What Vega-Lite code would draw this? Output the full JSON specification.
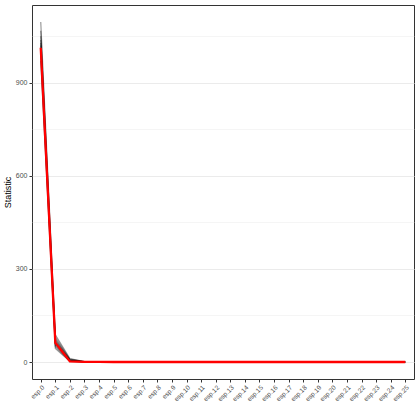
{
"$schema": "https://vega.github.io/schema/vega-lite/v6.json",
"width": 382, "height": 374,
"autosize": {"type": "none"},
"padding": {"left": 32, "top": 5, "right": 6, "bottom": 41},
"background": "white",
"config": {"font": "Liberation Sans", "view": {"stroke": "#333333", "strokeWidth": 1}},
"datasets": {"d": [
{"x":"esp.0","g":"p1","v":1096},{"x":"esp.0","g":"p2","v":1068},{"x":"esp.0","g":"p3","v":1050},{"x":"esp.0","g":"p4","v":1038},{"x":"esp.0","g":"p5","v":1028},{"x":"esp.0","g":"p6","v":1020},{"x":"esp.0","g":"p7","v":1012},{"x":"esp.0","g":"p8","v":1003},{"x":"esp.0","g":"p9","v":990},{"x":"esp.0","g":"p10","v":970},{"x":"esp.0","g":"obs","v":1013},
{"x":"esp.1","g":"p1","v":88},{"x":"esp.1","g":"p2","v":80},{"x":"esp.1","g":"p3","v":74},{"x":"esp.1","g":"p4","v":70},{"x":"esp.1","g":"p5","v":66},{"x":"esp.1","g":"p6","v":62},{"x":"esp.1","g":"p7","v":58},{"x":"esp.1","g":"p8","v":54},{"x":"esp.1","g":"p9","v":49},{"x":"esp.1","g":"p10","v":44},{"x":"esp.1","g":"obs","v":62},
{"x":"esp.2","g":"p1","v":11},{"x":"esp.2","g":"p2","v":9},{"x":"esp.2","g":"p3","v":8},{"x":"esp.2","g":"p4","v":7},{"x":"esp.2","g":"p5","v":6},{"x":"esp.2","g":"p6","v":5},{"x":"esp.2","g":"p7","v":4},{"x":"esp.2","g":"p8","v":3.5},{"x":"esp.2","g":"p9","v":3},{"x":"esp.2","g":"p10","v":2},{"x":"esp.2","g":"obs","v":2},
{"x":"esp.3","g":"p1","v":1.6},{"x":"esp.3","g":"p2","v":1.3},{"x":"esp.3","g":"p3","v":1.1},{"x":"esp.3","g":"p4","v":0.9},{"x":"esp.3","g":"p5","v":0.8},{"x":"esp.3","g":"p6","v":0.6},{"x":"esp.3","g":"p7","v":0.5},{"x":"esp.3","g":"p8","v":0.4},{"x":"esp.3","g":"p9","v":0.3},{"x":"esp.3","g":"p10","v":0.2},{"x":"esp.3","g":"obs","v":0.4},
{"x":"esp.4","g":"p1","v":0.4},{"x":"esp.4","g":"p2","v":0.3},{"x":"esp.4","g":"p3","v":0.3},{"x":"esp.4","g":"p4","v":0.2},{"x":"esp.4","g":"p5","v":0.2},{"x":"esp.4","g":"p6","v":0.15},{"x":"esp.4","g":"p7","v":0.1},{"x":"esp.4","g":"p8","v":0.1},{"x":"esp.4","g":"p9","v":0.05},{"x":"esp.4","g":"p10","v":0.05},{"x":"esp.4","g":"obs","v":0.1},
{"x":"esp.5","g":"p1","v":0.1},{"x":"esp.5","g":"p2","v":0.1},{"x":"esp.5","g":"p3","v":0.05},{"x":"esp.5","g":"p4","v":0.05},{"x":"esp.5","g":"p5","v":0.05},{"x":"esp.5","g":"p6","v":0},{"x":"esp.5","g":"p7","v":0},{"x":"esp.5","g":"p8","v":0},{"x":"esp.5","g":"p9","v":0},{"x":"esp.5","g":"p10","v":0},{"x":"esp.5","g":"obs","v":0},
{"x":"esp.6","g":"p1","v":0},{"x":"esp.6","g":"p2","v":0},{"x":"esp.6","g":"p3","v":0},{"x":"esp.6","g":"p4","v":0},{"x":"esp.6","g":"p5","v":0},{"x":"esp.6","g":"p6","v":0},{"x":"esp.6","g":"p7","v":0},{"x":"esp.6","g":"p8","v":0},{"x":"esp.6","g":"p9","v":0},{"x":"esp.6","g":"p10","v":0},{"x":"esp.6","g":"obs","v":0},
{"x":"esp.7","g":"p1","v":0},{"x":"esp.7","g":"p2","v":0},{"x":"esp.7","g":"p3","v":0},{"x":"esp.7","g":"p4","v":0},{"x":"esp.7","g":"p5","v":0},{"x":"esp.7","g":"p6","v":0},{"x":"esp.7","g":"p7","v":0},{"x":"esp.7","g":"p8","v":0},{"x":"esp.7","g":"p9","v":0},{"x":"esp.7","g":"p10","v":0},{"x":"esp.7","g":"obs","v":0},
{"x":"esp.8","g":"p1","v":0},{"x":"esp.8","g":"p2","v":0},{"x":"esp.8","g":"p3","v":0},{"x":"esp.8","g":"p4","v":0},{"x":"esp.8","g":"p5","v":0},{"x":"esp.8","g":"p6","v":0},{"x":"esp.8","g":"p7","v":0},{"x":"esp.8","g":"p8","v":0},{"x":"esp.8","g":"p9","v":0},{"x":"esp.8","g":"p10","v":0},{"x":"esp.8","g":"obs","v":0},
{"x":"esp.9","g":"p1","v":0},{"x":"esp.9","g":"p2","v":0},{"x":"esp.9","g":"p3","v":0},{"x":"esp.9","g":"p4","v":0},{"x":"esp.9","g":"p5","v":0},{"x":"esp.9","g":"p6","v":0},{"x":"esp.9","g":"p7","v":0},{"x":"esp.9","g":"p8","v":0},{"x":"esp.9","g":"p9","v":0},{"x":"esp.9","g":"p10","v":0},{"x":"esp.9","g":"obs","v":0},
{"x":"esp.10","g":"p1","v":0},{"x":"esp.10","g":"p2","v":0},{"x":"esp.10","g":"p3","v":0},{"x":"esp.10","g":"p4","v":0},{"x":"esp.10","g":"p5","v":0},{"x":"esp.10","g":"p6","v":0},{"x":"esp.10","g":"p7","v":0},{"x":"esp.10","g":"p8","v":0},{"x":"esp.10","g":"p9","v":0},{"x":"esp.10","g":"p10","v":0},{"x":"esp.10","g":"obs","v":0},
{"x":"esp.11","g":"p1","v":0},{"x":"esp.11","g":"p2","v":0},{"x":"esp.11","g":"p3","v":0},{"x":"esp.11","g":"p4","v":0},{"x":"esp.11","g":"p5","v":0},{"x":"esp.11","g":"p6","v":0},{"x":"esp.11","g":"p7","v":0},{"x":"esp.11","g":"p8","v":0},{"x":"esp.11","g":"p9","v":0},{"x":"esp.11","g":"p10","v":0},{"x":"esp.11","g":"obs","v":0},
{"x":"esp.12","g":"p1","v":0},{"x":"esp.12","g":"p2","v":0},{"x":"esp.12","g":"p3","v":0},{"x":"esp.12","g":"p4","v":0},{"x":"esp.12","g":"p5","v":0},{"x":"esp.12","g":"p6","v":0},{"x":"esp.12","g":"p7","v":0},{"x":"esp.12","g":"p8","v":0},{"x":"esp.12","g":"p9","v":0},{"x":"esp.12","g":"p10","v":0},{"x":"esp.12","g":"obs","v":0},
{"x":"esp.13","g":"p1","v":0},{"x":"esp.13","g":"p2","v":0},{"x":"esp.13","g":"p3","v":0},{"x":"esp.13","g":"p4","v":0},{"x":"esp.13","g":"p5","v":0},{"x":"esp.13","g":"p6","v":0},{"x":"esp.13","g":"p7","v":0},{"x":"esp.13","g":"p8","v":0},{"x":"esp.13","g":"p9","v":0},{"x":"esp.13","g":"p10","v":0},{"x":"esp.13","g":"obs","v":0},
{"x":"esp.14","g":"p1","v":0},{"x":"esp.14","g":"p2","v":0},{"x":"esp.14","g":"p3","v":0},{"x":"esp.14","g":"p4","v":0},{"x":"esp.14","g":"p5","v":0},{"x":"esp.14","g":"p6","v":0},{"x":"esp.14","g":"p7","v":0},{"x":"esp.14","g":"p8","v":0},{"x":"esp.14","g":"p9","v":0},{"x":"esp.14","g":"p10","v":0},{"x":"esp.14","g":"obs","v":0},
{"x":"esp.15","g":"p1","v":0},{"x":"esp.15","g":"p2","v":0},{"x":"esp.15","g":"p3","v":0},{"x":"esp.15","g":"p4","v":0},{"x":"esp.15","g":"p5","v":0},{"x":"esp.15","g":"p6","v":0},{"x":"esp.15","g":"p7","v":0},{"x":"esp.15","g":"p8","v":0},{"x":"esp.15","g":"p9","v":0},{"x":"esp.15","g":"p10","v":0},{"x":"esp.15","g":"obs","v":0},
{"x":"esp.16","g":"p1","v":0},{"x":"esp.16","g":"p2","v":0},{"x":"esp.16","g":"p3","v":0},{"x":"esp.16","g":"p4","v":0},{"x":"esp.16","g":"p5","v":0},{"x":"esp.16","g":"p6","v":0},{"x":"esp.16","g":"p7","v":0},{"x":"esp.16","g":"p8","v":0},{"x":"esp.16","g":"p9","v":0},{"x":"esp.16","g":"p10","v":0},{"x":"esp.16","g":"obs","v":0},
{"x":"esp.17","g":"p1","v":0},{"x":"esp.17","g":"p2","v":0},{"x":"esp.17","g":"p3","v":0},{"x":"esp.17","g":"p4","v":0},{"x":"esp.17","g":"p5","v":0},{"x":"esp.17","g":"p6","v":0},{"x":"esp.17","g":"p7","v":0},{"x":"esp.17","g":"p8","v":0},{"x":"esp.17","g":"p9","v":0},{"x":"esp.17","g":"p10","v":0},{"x":"esp.17","g":"obs","v":0},
{"x":"esp.18","g":"p1","v":0},{"x":"esp.18","g":"p2","v":0},{"x":"esp.18","g":"p3","v":0},{"x":"esp.18","g":"p4","v":0},{"x":"esp.18","g":"p5","v":0},{"x":"esp.18","g":"p6","v":0},{"x":"esp.18","g":"p7","v":0},{"x":"esp.18","g":"p8","v":0},{"x":"esp.18","g":"p9","v":0},{"x":"esp.18","g":"p10","v":0},{"x":"esp.18","g":"obs","v":0},
{"x":"esp.19","g":"p1","v":0},{"x":"esp.19","g":"p2","v":0},{"x":"esp.19","g":"p3","v":0},{"x":"esp.19","g":"p4","v":0},{"x":"esp.19","g":"p5","v":0},{"x":"esp.19","g":"p6","v":0},{"x":"esp.19","g":"p7","v":0},{"x":"esp.19","g":"p8","v":0},{"x":"esp.19","g":"p9","v":0},{"x":"esp.19","g":"p10","v":0},{"x":"esp.19","g":"obs","v":0},
{"x":"esp.20","g":"p1","v":0},{"x":"esp.20","g":"p2","v":0},{"x":"esp.20","g":"p3","v":0},{"x":"esp.20","g":"p4","v":0},{"x":"esp.20","g":"p5","v":0},{"x":"esp.20","g":"p6","v":0},{"x":"esp.20","g":"p7","v":0},{"x":"esp.20","g":"p8","v":0},{"x":"esp.20","g":"p9","v":0},{"x":"esp.20","g":"p10","v":0},{"x":"esp.20","g":"obs","v":0},
{"x":"esp.21","g":"p1","v":0},{"x":"esp.21","g":"p2","v":0},{"x":"esp.21","g":"p3","v":0},{"x":"esp.21","g":"p4","v":0},{"x":"esp.21","g":"p5","v":0},{"x":"esp.21","g":"p6","v":0},{"x":"esp.21","g":"p7","v":0},{"x":"esp.21","g":"p8","v":0},{"x":"esp.21","g":"p9","v":0},{"x":"esp.21","g":"p10","v":0},{"x":"esp.21","g":"obs","v":0},
{"x":"esp.22","g":"p1","v":0},{"x":"esp.22","g":"p2","v":0},{"x":"esp.22","g":"p3","v":0},{"x":"esp.22","g":"p4","v":0},{"x":"esp.22","g":"p5","v":0},{"x":"esp.22","g":"p6","v":0},{"x":"esp.22","g":"p7","v":0},{"x":"esp.22","g":"p8","v":0},{"x":"esp.22","g":"p9","v":0},{"x":"esp.22","g":"p10","v":0},{"x":"esp.22","g":"obs","v":0},
{"x":"esp.23","g":"p1","v":0},{"x":"esp.23","g":"p2","v":0},{"x":"esp.23","g":"p3","v":0},{"x":"esp.23","g":"p4","v":0},{"x":"esp.23","g":"p5","v":0},{"x":"esp.23","g":"p6","v":0},{"x":"esp.23","g":"p7","v":0},{"x":"esp.23","g":"p8","v":0},{"x":"esp.23","g":"p9","v":0},{"x":"esp.23","g":"p10","v":0},{"x":"esp.23","g":"obs","v":0},
{"x":"esp.24","g":"p1","v":0},{"x":"esp.24","g":"p2","v":0},{"x":"esp.24","g":"p3","v":0},{"x":"esp.24","g":"p4","v":0},{"x":"esp.24","g":"p5","v":0},{"x":"esp.24","g":"p6","v":0},{"x":"esp.24","g":"p7","v":0},{"x":"esp.24","g":"p8","v":0},{"x":"esp.24","g":"p9","v":0},{"x":"esp.24","g":"p10","v":0},{"x":"esp.24","g":"obs","v":0},
{"x":"esp.25","g":"p1","v":0},{"x":"esp.25","g":"p2","v":0},{"x":"esp.25","g":"p3","v":0},{"x":"esp.25","g":"p4","v":0},{"x":"esp.25","g":"p5","v":0},{"x":"esp.25","g":"p6","v":0},{"x":"esp.25","g":"p7","v":0},{"x":"esp.25","g":"p8","v":0},{"x":"esp.25","g":"p9","v":0},{"x":"esp.25","g":"p10","v":0},{"x":"esp.25","g":"obs","v":0}
]},
"data": {"name": "d"},
"encoding": {
 "x": {"field": "x", "type": "ordinal", "title": null,
  "scale": {"type": "point", "padding": 0.6, "domain": ["esp.0","esp.1","esp.2","esp.3","esp.4","esp.5","esp.6","esp.7","esp.8","esp.9","esp.10","esp.11","esp.12","esp.13","esp.14","esp.15","esp.16","esp.17","esp.18","esp.19","esp.20","esp.21","esp.22","esp.23","esp.24","esp.25"]},
  "axis": {"labelAngle": -45, "labelAlign": "right", "labelBaseline": "top", "labelFontSize": 6.5, "labelColor": "#4d4d4d", "labelPadding": 2, "tickColor": "#333333", "tickSize": 3, "domain": false, "grid": false}},
 "y": {"field": "v", "type": "quantitative", "title": "Statistic",
  "scale": {"domain": [-54.8, 1150.8], "nice": false, "zero": false},
  "axis": {"values": [0,150,300,450,600,750,900,1050], "labelExpr": "datum.value % 300 === 0 ? datum.label : ''", "format": "d",
   "labelFontSize": 7, "labelColor": "#4d4d4d", "labelPadding": 2, "tickSize": 3,
   "tickColor": "#333333", "tickOpacity": {"condition": {"test": "datum.value % 300 === 0", "value": 1}, "value": 0},
   "grid": true, "gridColor": "#ebebeb", "gridWidth": {"condition": {"test": "datum.value % 300 === 0", "value": 1}, "value": 0.5},
   "domain": false, "titleFontSize": 9, "titleFontWeight": "normal", "titleColor": "black", "titlePadding": 3}}
},
"layer": [
 {"transform": [{"filter": "datum.g !== 'obs'"}], "mark": {"type": "line", "color": "black", "opacity": 0.4, "strokeWidth": 1.2}, "encoding": {"detail": {"field": "g"}}},
 {"transform": [{"filter": "datum.g === 'obs'"}], "mark": {"type": "line", "color": "#ff0000", "strokeWidth": 2.3}, "encoding": {}}
]
}
